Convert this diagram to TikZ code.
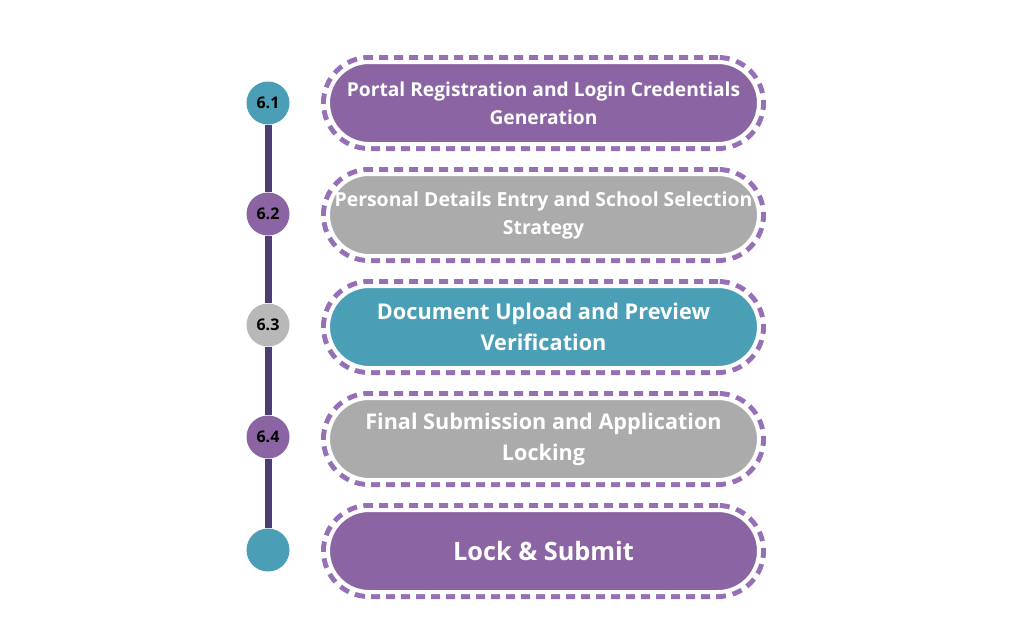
\documentclass[tikz,border=0pt]{standalone}
\usepackage{fontspec}
\setmainfont{Open Sans}
\definecolor{pillpurple}{RGB}{139,101,163}
\definecolor{pillteal}{RGB}{74,158,181}
\definecolor{pillgray}{RGB}{171,171,171}
\definecolor{dotgray}{RGB}{184,184,184}
\definecolor{dashpurple}{RGB}{150,112,182}
\definecolor{railnavy}{RGB}{76,62,112}
\usetikzlibrary{positioning}
\tikzset{
  pill/.style={rectangle,rounded corners=41pt,minimum width=431pt,
               minimum height=82pt,inner sep=0pt,
               align=center,text=white,
               fill=#1,draw=white,line width=4pt,
               preaction={draw=dashpurple,line width=14pt,
                          dash pattern=on 9pt off 6pt}},
  pill/.default=pillpurple,
  dot/.style={circle,fill=#1,minimum size=43pt,inner sep=0pt,
              font=\bfseries\fontsize{16}{16}\selectfont},
  rail/.style={line width=7pt,railnavy},
}

\begin{document}
\begin{tikzpicture}[x=1pt,y=-1pt]
    \useasboundingbox (0,0) rectangle (1024,640);

    % step markers
    \node[dot=pillteal]   (c1) at (268,103) {6.1};
    \node[dot=pillpurple] (c2) at (268,214) {6.2};
    \node[dot=dotgray]    (c3) at (268,325) {6.3};
    \node[dot=pillpurple] (c4) at (268,437) {6.4};
    \node[dot=pillteal]   (c5) at (268,550) {};

    \draw[rail] (c1) -- (c2);
    \draw[rail] (c2) -- (c3);
    \draw[rail] (c3) -- (c4);
    \draw[rail] (c4) -- (c5);

    % step boxes
    \node[pill=pillpurple,font=\bfseries\fontsize{19.2}{28}\selectfont]
      (p1) at (543.5,103) {Portal Registration and Login Credentials\\Generation};
    \node[pill=pillgray,font=\bfseries\fontsize{19.4}{28}\selectfont]
      (p2) at (543.5,215) {Personal Details Entry and School Selection\\Strategy};
    \node[pill=pillteal,font=\bfseries\fontsize{21.7}{31}\selectfont]
      (p3) at (543.5,327) {Document Upload and Preview\\Verification};
    \node[pill=pillgray,font=\bfseries\fontsize{21.6}{31}\selectfont]
      (p4) at (543.5,439) {Final Submission and Application\\Locking};
    \node[pill=pillpurple,font=\bfseries\fontsize{25.3}{30}\selectfont]
      (p5) at (543.5,551) {Lock \& Submit};

\end{tikzpicture}
\end{document}
